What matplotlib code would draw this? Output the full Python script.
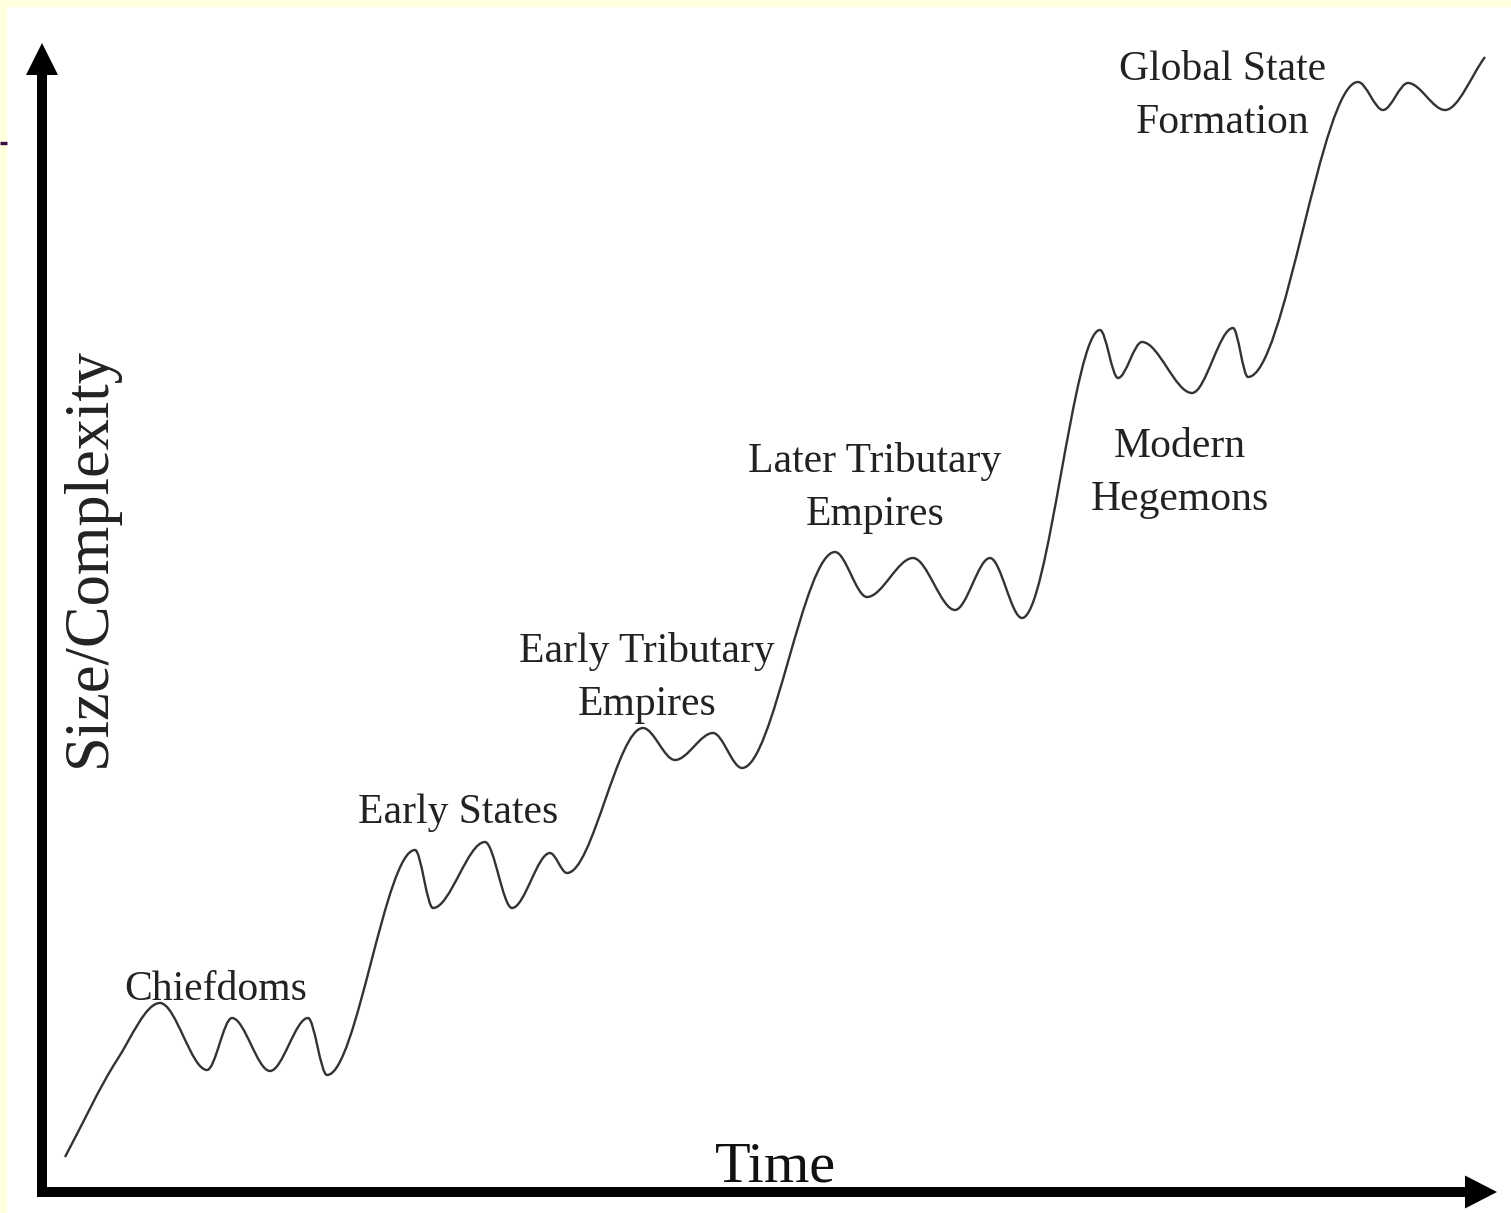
import numpy as np
import matplotlib.pyplot as plt
from matplotlib.path import Path
from matplotlib.patches import PathPatch, FancyArrow, Rectangle

# peaks and troughs of the curve (pixel-like units, y grows downward)
time = [65, 117, 160, 207, 232, 270, 308, 327, 415, 433, 485, 512, 550, 567,
        643, 675, 713, 742, 835, 867, 913, 955, 990, 1022,
        1100, 1118, 1142, 1192, 1233, 1248, 1358, 1383, 1408, 1445, 1485]
level = [1157, 1060, 1003, 1070, 1018, 1071, 1018, 1075, 850, 908, 842, 908, 853, 873,
         728, 760, 733, 768, 552, 597, 558, 610, 558, 618,
         330, 378, 342, 393, 328, 377, 82, 110, 83, 110, 57]

labels = ["Chiefdoms", "Early States", "Early Tributary\nEmpires", "Later Tributary\nEmpires",
          "Modern\nHegemons", "Global State\nFormation"]
label_x = [216, 458, 647, 875, 1180, 1223]
label_y = [1000, 823, 662, 472, 457, 80]


def smooth_path(x, y):
    # monotone cubic (pchip style) slopes, drawn as bezier segments
    x = np.asarray(x, float)
    y = np.asarray(y, float)
    h = np.diff(x)
    d = np.diff(y) / h
    m = np.zeros_like(y)
    m[0], m[-1] = d[0], d[-1]
    for k in range(1, len(x) - 1):
        if d[k - 1] * d[k] <= 0:
            m[k] = 0
        else:
            w1 = 2 * h[k] + h[k - 1]
            w2 = h[k] + 2 * h[k - 1]
            m[k] = (w1 + w2) / (w1 / d[k - 1] + w2 / d[k])
    verts = [(x[0], y[0])]
    codes = [Path.MOVETO]
    for k in range(len(x) - 1):
        verts += [(x[k] + h[k] / 3, y[k] + m[k] * h[k] / 3),
                  (x[k + 1] - h[k] / 3, y[k + 1] - m[k + 1] * h[k] / 3),
                  (x[k + 1], y[k + 1])]
        codes += [Path.CURVE4] * 3
    return Path(verts, codes)


W, H = 1511, 1213
fig = plt.figure(figsize=(W / 100, H / 100), dpi=100)
ax = fig.add_axes([0, 0, 1, 1])
ax.set_xlim(0, W)
ax.set_ylim(H, 0)
ax.axis('off')

# pale yellow slide border
ax.add_patch(Rectangle((0, 0), 7, H, color='#FFFEDD', lw=0))
ax.add_patch(Rectangle((0, 0), W, 7, color='#FFFEDD', lw=0))
ax.plot([0, 7], [143, 143], color='#3A0A40', lw=2.4, solid_capstyle='butt')

# axes with arrows
ax.add_patch(FancyArrow(42, 1197, 0, -1154, width=10, head_width=32, head_length=32,
                        length_includes_head=True, color='black', lw=0))
ax.add_patch(FancyArrow(37, 1192, 1460, 0, width=10, head_width=33, head_length=32,
                        length_includes_head=True, color='black', lw=0))

ax.add_patch(PathPatch(smooth_path(time, level), fill=False, edgecolor='#333333', lw=1.7))

for txt, x, y in zip(labels, label_x, label_y):
    lines = txt.split("\n")
    for i, line in enumerate(lines):
        ax.text(x, y + i * 53, line, ha='center', va='baseline', fontsize=30,
                family='Liberation Serif', color='#222222')

ax.text(776, 1182, "Time", ha='center', va='baseline', fontsize=42,
        family='Liberation Serif', color='#111111')
ax.text(90, 557, "Size/Complexity", ha='center', va='center', rotation=90, fontsize=45,
        family='Liberation Serif', color='#222222')

fig.savefig('out.png', dpi=100, facecolor='white')
